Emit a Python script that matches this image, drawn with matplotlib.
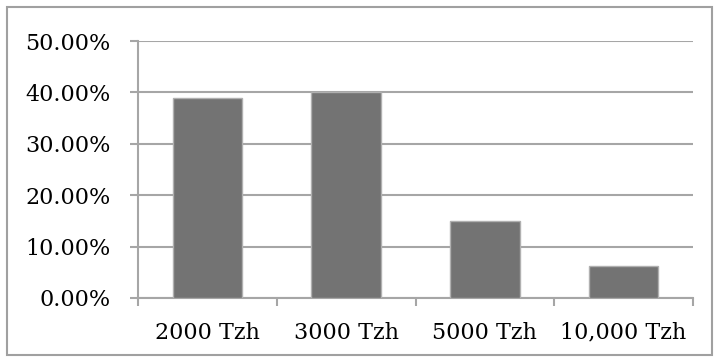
import matplotlib
matplotlib.use("Agg")
import matplotlib.pyplot as plt
from matplotlib.patches import Rectangle
from matplotlib.ticker import FuncFormatter, FixedLocator

categories = ["2000 Tzh", "3000 Tzh", "5000 Tzh", "10,000 Tzh"]
values = [38.9, 40.0, 15.0, 6.2]
yticks = [0, 10, 20, 30, 40, 50]

W, H = 719, 362
fig = plt.figure(figsize=(W / 100, H / 100), dpi=100)
fig.patch.set_facecolor("white")

left, right, top, bottom = 138, 693, 41, 298
ax = fig.add_axes([left / W, 1 - bottom / H, (right - left) / W, (bottom - top) / H])

grid_c = "#a6a6a6"
x = list(range(len(categories)))
ax.bar(x, values, width=0.5, color="#737373", edgecolor="#b0b0b0", linewidth=1.0, zorder=3)
ax.set_xlim(-0.5, len(categories) - 0.5)
ax.set_ylim(0, 50)
ax.set_yticks(yticks)
ax.yaxis.set_major_formatter(FuncFormatter(lambda v, p: f"{v:.2f}%"))
ax.yaxis.grid(True, color=grid_c, linewidth=1.5, zorder=0)
ax.set_xticks(x)
ax.set_xticklabels(categories)
ax.xaxis.set_minor_locator(FixedLocator([i - 0.5 for i in range(len(categories) + 1)]))

for s in ["top", "right"]:
    ax.spines[s].set_visible(False)
for s in ["left", "bottom"]:
    ax.spines[s].set_color(grid_c)
    ax.spines[s].set_linewidth(1.5)

ax.tick_params(axis="y", which="major", length=6, width=1.5, color=grid_c, pad=14, labelsize=16)
ax.tick_params(axis="x", which="major", length=0, pad=17, labelsize=16)
ax.tick_params(axis="x", which="minor", length=6, width=1.5, color=grid_c)
for lab in ax.get_xticklabels() + ax.get_yticklabels():
    lab.set_fontfamily("DejaVu Serif")
    lab.set_color("black")

fig.add_artist(Rectangle((7 / W, 1 - 355 / H), (712 - 7) / W, (355 - 7) / H,
                         transform=fig.transFigure, fill=False, edgecolor="#a0a0a0", linewidth=1.5))

fig.savefig("out.png", dpi=100)
